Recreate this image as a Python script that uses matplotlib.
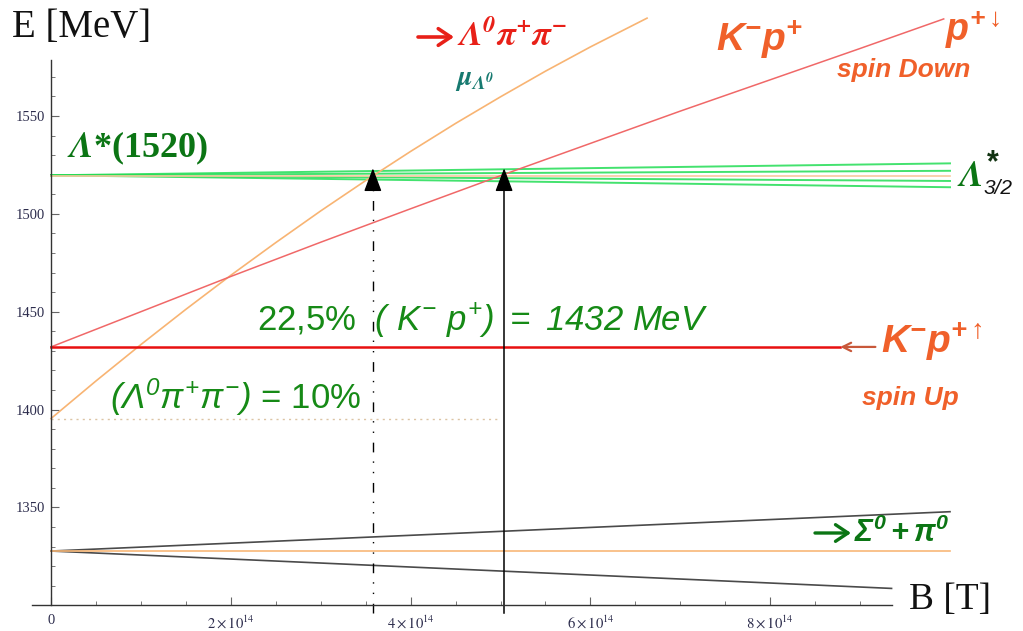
import matplotlib
matplotlib.use('Agg')
import matplotlib.pyplot as plt
from matplotlib.ticker import FixedLocator

plt.rcParams['mathtext.fontset'] = 'custom'
plt.rcParams['mathtext.rm'] = 'Liberation Sans:italic'
plt.rcParams['mathtext.it'] = 'Liberation Sans:italic'
plt.rcParams['mathtext.bf'] = 'Liberation Sans:italic:bold'

# ---------------- data (B in units of 1e14 T, E in MeV) ----------------
sigma_B = [0.0, 10.0]
sigma_mid_E = [1327.7, 1327.7]
sigma_up_E = [1327.7, 1347.8]
sigma_down_B = [0.0, 9.35]
sigma_down_E = [1327.7, 1308.6]

lam_B = [0.0, 10.0]
lam_E0 = 1519.7
lam_E_end = [1525.8, 1522.0, 1516.8, 1513.6]
lam_mid_E = [1519.5, 1519.5]

lpp_B = [0, 0.5, 1, 1.5, 2, 2.5, 3, 3.5, 4, 4.5, 5, 5.5, 6, 6.63]
lpp_E = [1395.4, 1414.6, 1433.2, 1451.2, 1468.6, 1485.3, 1501.5, 1517.0, 1531.9,
         1546.2, 1559.8, 1572.9, 1585.3, 1600.0]

kpd_B = [0, 1, 2, 3, 4, 5, 6, 7, 8, 9, 9.93]
kpd_E = [1432, 1450, 1468, 1485.5, 1502.6, 1519.5, 1536, 1552.5, 1568.5, 1584.5, 1599.6]

kpu_B = [0, 8.78]
kpu_E = [1432, 1432]

thr_B = [0, 5.0]
thr_E = [1395.4, 1395.4]

arrow_B = [3.58, 5.04]
arrow_E_tip = 1523.3
arrow_E_head = 1513.0
arrow_E_base = 1296.0

y_major = [1350, 1400, 1450, 1500, 1550]
y_minor = [e for e in range(1310, 1580, 10) if e not in y_major]
x_major = [0, 2, 4, 6, 8]
x_major_labels = ['0', r'$2\times10^{14}$', r'$4\times10^{14}$', r'$6\times10^{14}$', r'$8\times10^{14}$']
x_minor = [0.5, 1, 1.5, 2.5, 3, 3.5, 4.5, 5, 5.5, 6.5, 7, 7.5, 8.5, 9]

# ---------------- layout ----------------
W, H = 1023, 631
X0, SX = 51.0, 89.9          # pixel of B=0, pixels per 1e14 T
Y_REF, E_REF, SY = 116.0, 1550.0, 1.957

fig = plt.figure(figsize=(W / 100, H / 100), dpi=100)
ax = fig.add_axes([0, 0, 1, 1])
ax.set_xlim(-X0 / SX, (W - X0) / SX)
ax.set_ylim(E_REF - (H - Y_REF) / SY, E_REF + Y_REF / SY)
ax.patch.set_alpha(0)

for s in ('top', 'right'):
    ax.spines[s].set_visible(False)
ax.spines['left'].set_position(('data', 0))
ax.spines['bottom'].set_position(('data', 1300))
ax.spines['left'].set_bounds(1300, 1578.6)
ax.spines['bottom'].set_bounds(-0.21, 9.35)
for s in ('left', 'bottom'):
    ax.spines[s].set_color('#333333')
    ax.spines[s].set_linewidth(1.0)

ax.yaxis.set_major_locator(FixedLocator(y_major))
ax.yaxis.set_minor_locator(FixedLocator(y_minor))
ax.set_yticklabels([str(v) for v in y_major])
ax.set_xticks(x_major)
ax.set_xticklabels(x_major_labels)
ax.xaxis.set_minor_locator(FixedLocator(x_minor))
ax.tick_params(which='major', direction='in', length=5.5, width=0.8, color='#666666')
ax.tick_params(which='minor', direction='in', length=3, width=0.7, color='#777777')
ax.tick_params(axis='y', which='major', pad=4.3)
ax.tick_params(axis='x', which='major', pad=6.5)
for lbl in ax.get_xticklabels() + ax.get_yticklabels():
    lbl.set_family('Liberation Serif')
    lbl.set_fontsize(10.5)
    lbl.set_color('#2d2d4d')
    lbl.set_math_fontfamily('stix')

# ---------------- lines ----------------
ax.plot(thr_B, thr_E, color='#dcc4a4', lw=1.0, ls=(0, (1.5, 3)))
ax.plot(sigma_B, sigma_up_E, color='#4a4a4a', lw=1.2)
ax.plot(sigma_down_B, sigma_down_E, color='#4a4a4a', lw=1.2)
ax.plot(sigma_B, sigma_mid_E, color='#f8b878', lw=1.2)

for e_end in lam_E_end:
    ax.plot(lam_B, [lam_E0, e_end], color='#22dd55', lw=1.4, alpha=0.85)
ax.plot(lam_B, lam_mid_E, color='#f8c8a0', lw=1.2)

ax.plot(lpp_B, lpp_E, color='#f8b473', lw=1.2)
ax.plot(kpd_B, kpd_E, color='#f06868', lw=1.1)
ax.plot(kpu_B, kpu_E, color='#e81010', lw=1.8)

# vertical markers
ax.plot([arrow_B[0]] * 2, [arrow_E_base, arrow_E_head], color='black', lw=1.0,
        ls=(0, (7, 7, 1, 6.5, 1, 6.5)))
ax.plot([arrow_B[1]] * 2, [arrow_E_base, arrow_E_head], color='black', lw=1.1)
for b in arrow_B:
    ax.annotate('', xy=(b, arrow_E_tip), xytext=(b, arrow_E_head + 0.5),
                arrowprops=dict(arrowstyle='-|>,head_length=1.45,head_width=0.55',
                                color='black', lw=1.0, shrinkA=0, shrinkB=0,
                                mutation_scale=10))

# label arrow for spin up
ax.annotate('', xy=(kpu_B[1], 1432), xytext=(9.17, 1432),
            arrowprops=dict(arrowstyle='->,head_length=0.6,head_width=0.3', color='#c8583a',
                            lw=1.6, shrinkA=0, shrinkB=0, mutation_scale=10))

# ---------------- texts ----------------
def ftext(x, y, s, **kw):
    fig.text(x / W, 1 - y / H, s, **kw)

def farrow(x1, x2, y, color, lw=2.6):
    fig.add_artist(matplotlib.patches.FancyArrowPatch(
        (x1 / W, 1 - y / H), (x2 / W, 1 - y / H), transform=fig.transFigure,
        arrowstyle='->,head_length=0.45,head_width=0.3', mutation_scale=20,
        color=color, lw=lw, shrinkA=0, shrinkB=0))

GREEN = '#0b7514'
ORANGE = '#f0602a'

ftext(12, 28, 'E [MeV]', family='Liberation Serif', size=28, va='center', color='#111111')
ftext(909, 600, 'B [T]', family='Liberation Serif', size=27, va='center', color='#111111')

ftext(67, 148, r'$\mathbfit{\Lambda}$*(1520)', family='Liberation Serif', weight='bold',
      size=26, va='center', color=GREEN, math_fontfamily='stix')

farrow(418, 454, 37, '#e82018')
ftext(457, 36, r'$\mathbfit{\Lambda^{0}\pi^{+}\pi^{-}}$', size=25, va='center',
      color='#e82018', math_fontfamily='stix')
ftext(455, 80, r'$\mathbfit{\mu_{\Lambda^{0}}}$', size=20, va='center',
      color='#177a70', math_fontfamily='stix')

ftext(716, 40, r'$\mathbf{K^{-}p^{+}}$', size=28, va='center', color=ORANGE)
ftext(945, 30, r'$\mathbf{p^{+\downarrow}}$', size=27, va='center', color=ORANGE)
ftext(837, 70, 'spin Down', family='Liberation Sans', style='italic', weight='bold',
      size=19, va='center', color=ORANGE)

ftext(957, 176, r'$\mathbfit{\Lambda}$', size=26, va='center', color=GREEN,
      math_fontfamily='stix')
ftext(987, 163, '*', family='Liberation Sans', weight='bold', size=22, va='center', color='#113311')
ftext(984, 188, '3/2', family='Liberation Sans', style='italic', size=15, va='center', color='#111111')

ftext(257, 321, r'22,5%  $(\ K^{-}\ p^{+})\ =\ 1432\ MeV$', family='Liberation Sans',
      size=25, va='center', color='#168a16')
ftext(110, 397, r'$(\Lambda^{0}\pi^{+}\pi^{-})$ = 10%', family='Liberation Sans',
      size=25, va='center', color='#168a16')

ftext(881, 342, r'$\mathbf{K^{-}p^{+\uparrow}}$', size=28, va='center', color=ORANGE)
ftext(862, 398, 'spin Up', family='Liberation Sans', style='italic', weight='bold',
      size=19, va='center', color=ORANGE)

farrow(815, 851, 533, GREEN, lw=2.4)
ftext(854, 532, r'$\mathbf{\Sigma^{0}+\pi^{0}}$', size=22, va='center', color=GREEN)

fig.savefig('out.png', dpi=100)
